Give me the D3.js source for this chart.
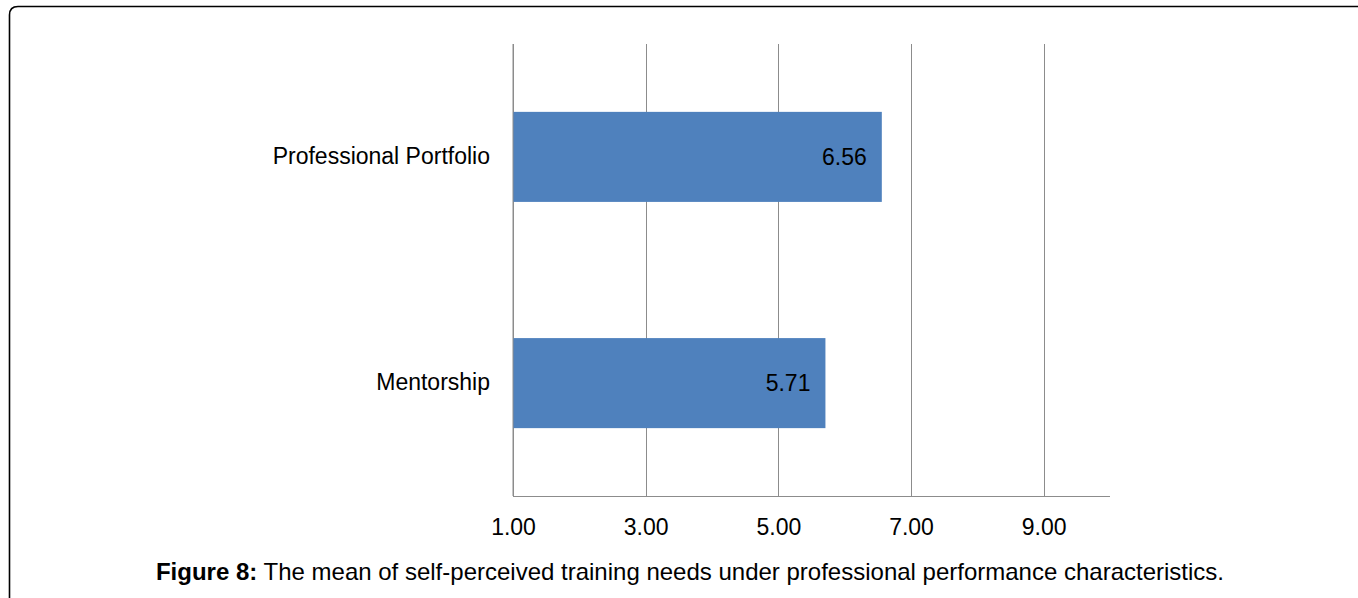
<!DOCTYPE html>
<html>
<head>
<meta charset="utf-8">
<script src="https://cdn.jsdelivr.net/npm/d3@7"></script>
<style>
  html, body { margin: 0; padding: 0; background: #fff; }
  svg { display: block; }
  text { font-family: "Liberation Sans", Arial, sans-serif; fill: #000; }
</style>
</head>
<body>
<svg id="chart" width="1358" height="598"></svg>
<script>
// Mean self-perceived training needs per characteristic
const categories = ["Professional Portfolio", "Mentorship"];
const means = [6.56, 5.71];
const tickValues = [1, 3, 5, 7, 9];
const captionLead = "Figure 8:";
const captionText = " The mean of self-perceived training needs under professional performance characteristics.";

const svg = d3.select("#chart");

// Frame around the figure (right and bottom edges run off the page)
svg.append("path")
  .attr("d", "M9.5,598 L9.5,15 Q9.5,6.5 18,6.5 L1370,6.5")
  .attr("fill", "none")
  .attr("stroke", "#000")
  .attr("stroke-width", 1.6);

const plot = { left: 513, right: 1110, top: 44, bottom: 496 };

const x = d3.scaleLinear().domain([1, 10]).range([plot.left, plot.right]);
const y = d3.scaleBand()
  .domain(categories)
  .range([plot.top, plot.bottom])
  .paddingInner(0.602)
  .paddingOuter(0.3);

// Vertical gridlines
svg.append("g")
  .selectAll("line")
  .data(tickValues)
  .join("line")
  .attr("x1", d => Math.round(x(d)) + 0.5)
  .attr("x2", d => Math.round(x(d)) + 0.5)
  .attr("y1", plot.top)
  .attr("y2", plot.bottom)
  .attr("stroke", "#8c8c8c")
  .attr("stroke-width", 1);

// Bars
svg.append("g")
  .selectAll("rect")
  .data(categories)
  .join("rect")
  .attr("x", x(1))
  .attr("y", d => y(d))
  .attr("width", (d, i) => x(means[i]) - x(1))
  .attr("height", y.bandwidth())
  .attr("fill", "#4f81bd");

// Value labels inside bar ends
svg.append("g")
  .selectAll("text")
  .data(categories)
  .join("text")
  .attr("x", (d, i) => x(means[i]) - 15)
  .attr("y", d => y(d) + y.bandwidth() / 2)
  .attr("dy", "0.35em")
  .attr("text-anchor", "end")
  .attr("font-size", 23)
  .text((d, i) => means[i].toFixed(2));

// X axis
const xAxis = d3.axisBottom(x)
  .tickValues(tickValues)
  .tickSize(0)
  .tickPadding(22)
  .tickFormat(d3.format(".2f"));

const gx = svg.append("g")
  .attr("transform", `translate(0,${plot.bottom + 0.5})`)
  .call(xAxis);
gx.select(".domain").attr("stroke", "#8c8c8c").attr("d", `M${plot.left},0H${plot.right}`);
gx.selectAll("text")
  .attr("font-size", 23)
  .attr("font-family", "Liberation Sans, Arial, sans-serif")
  .attr("fill", "#000");

// Y axis (category labels only)
const yAxis = d3.axisLeft(y).tickSize(0).tickPadding(23);
const gy = svg.append("g")
  .attr("transform", `translate(${plot.left},0)`)
  .call(yAxis);
gy.select(".domain").attr("stroke", "#8c8c8c").attr("d", `M0,${plot.top}V${plot.bottom}`);
gy.selectAll("text")
  .attr("font-size", 23)
  .attr("font-family", "Liberation Sans, Arial, sans-serif")
  .attr("fill", "#000");

// Caption
const caption = svg.append("text")
  .attr("x", 690)
  .attr("y", 580)
  .attr("text-anchor", "middle")
  .attr("font-size", 24);
caption.append("tspan").attr("font-weight", "bold").text(captionLead);
caption.append("tspan").text(captionText);
</script>
</body>
</html>
